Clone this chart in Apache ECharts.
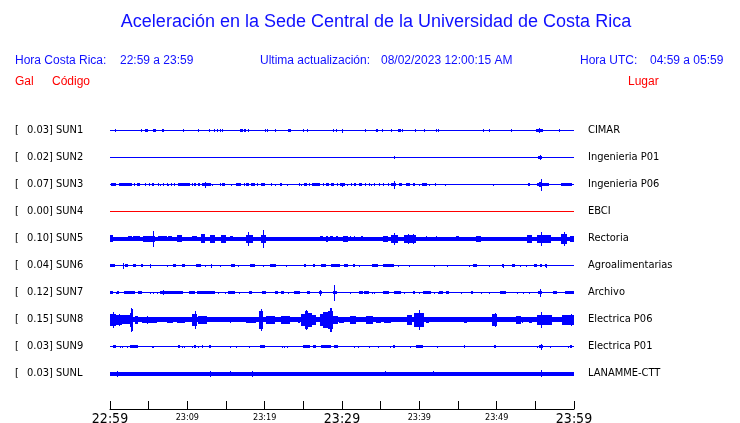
<!DOCTYPE html>
<html><head><meta charset="utf-8">
<script src="https://cdn.jsdelivr.net/npm/echarts@6.0.0/dist/echarts.min.js"></script>
<style>html,body{margin:0;padding:0;background:#fff}#c{width:740px;height:423px}</style>
</head><body><div id="c"></div>
<script>
// ---- data ----
const codes  = ['SUN1','SUN2','SUN3','SUN4','SUN5','SUN6','SUN7','SUN8','SUN9','SUNL'];
const gal    = [0.03, 0.02, 0.07, 0.00, 0.10, 0.04, 0.12, 0.15, 0.03, 0.03];
const places = ['CIMAR','Ingenieria P01','Ingenieria P06','EBCI','Rectoria','Agroalimentarias','Archivo','Electrica P06','Electrica P01','LANAMME-CTT'];
const tickLabels = ['22:59','23:09','23:19','23:29','23:39','23:49','23:59']; // every 10 minutes
// background noise half-amplitude of each trace
const baseAmp = [0.5, 0.5, 0.5, 0.5, 2, 0.5, 0.5, 2.4, 0.5, 2];
// events: [start minute, end minute, half amplitude]
const sun1 = [[0.68,0.68,1.5],[1.85,1.85,0.9],[3.32,3.32,0.9],[4.0,4.0,1.3],[4.55,4.9,1.3],[5.6,6.0,1.5],[6.67,6.67,1.3],[6.88,6.88,1.3],[9.46,9.46,1.5],[11.39,11.39,1.3],[12.81,12.81,1.3],[13.46,13.46,1.3],[13.85,13.85,1.3],[14.19,14.19,1.3],[14.49,14.49,1.3],[16.8,17.2,1.3],[17.3,17.6,1.3],[17.85,17.85,1.3],[18.41,18.41,0.9],[20.04,20.04,1.3],[20.3,20.3,1.3],[21.38,21.38,1.3],[23.0,23.4,1.3],[25.0,25.0,1.3],[25.5,25.5,1.3],[27.9,27.9,0.9],[28.8,28.8,1.3],[29.2,29.2,1.3],[30.0,30.0,2],[30.75,30.75,0.9],[33.0,33.0,1.3],[33.59,33.59,0.9],[34.41,34.41,1.3],[34.54,34.54,1.3],[35.13,35.13,1.3],[36.3,36.3,1.3],[36.81,36.81,0.9],[37.25,37.6,1.3],[37.77,37.77,1.3],[39.44,39.44,1.3],[40.55,40.55,1.3],[42.15,42.15,1.3],[42.36,42.36,1.3],[43.0,43.0,0.9],[48.17,48.17,1.3],[48.48,48.48,0.9],[49.07,49.07,1.3],[51.9,51.9,1.3],[55.1,56.0,1.3],[55.45,55.6,2.2],[58.06,58.06,1.3]];
const sun2 = [[36.7,36.7,1.5],[55.3,55.9,1.3],[55.55,55.7,2.2]];
const sun3 = [[0.1,0.75,1.5],[1.2,2.9,1.3],[3.14,3.14,1.3],[3.44,3.91,1.3],[4.52,4.52,1.3],[5.03,5.03,1.3],[5.46,5.72,1.3],[6.15,6.15,1.3],[6.49,6.49,1],[6.88,6.88,1.3],[7.32,7.32,1.3],[7.52,7.52,1],[7.87,7.87,1.3],[8.22,8.22,1.3],[8.74,10.32,1.3],[10.62,10.62,1.3],[10.88,11.06,1.3],[11.39,11.65,1.3],[11.91,13.03,1.3],[12.26,12.26,3],[13.2,13.2,1],[14.19,14.19,1.3],[14.49,14.84,1.3],[15.61,15.61,1],[16.35,16.9,1.3],[17.29,17.29,1.3],[17.64,17.94,1.3],[18.28,18.71,1.3],[19.06,19.06,1.3],[19.57,20.09,1.3],[20.86,20.86,1.3],[21.29,21.29,1],[21.94,22.23,1.3],[22.93,22.93,1],[24.43,24.43,1.3],[24.74,24.74,1],[25.07,25.5,1.3],[25.68,25.68,1.3],[26.1,27.1,1.3],[27.52,27.52,1.3],[27.96,28.26,1.3],[28.6,29.03,1.3],[29.38,29.38,1.3],[29.68,30.45,1.3],[29.97,29.97,2],[30.62,30.62,1],[31.19,31.19,1.3],[31.61,31.83,1.3],[32.26,32.61,1.3],[33.03,33.03,1.3],[33.46,33.46,1.3],[33.77,33.77,1],[34.1,34.1,1.3],[34.75,34.75,1.3],[35.26,35.48,1.3],[35.91,35.91,1.3],[36.35,37.0,1.5],[36.68,36.68,4],[37.42,37.77,1.3],[38.28,38.8,1.3],[39.23,39.4,1.3],[40.0,40.0,1],[40.35,40.94,1.5],[41.2,41.2,1],[41.97,41.97,1.3],[43.26,43.26,1],[45.16,45.16,0.9],[47.96,47.96,0.9],[48.39,48.39,0.9],[49.55,49.55,1],[50.62,50.62,0.9],[52.26,52.26,0.9],[53.33,53.33,0.9],[54.1,54.32,1.3],[55.26,56.77,1.5],[55.5,55.9,2.5],[55.7,55.7,6],[58.28,59.78,1.3]];
const sun4 = [];
const sun5 = [[0,0.43,3.5],[2.36,2.8,2.5],[3.0,3.87,2.5],[4.3,5.81,3],[5.59,5.59,8],[6.23,7.32,2.5],[7.52,7.96,2.5],[8.61,9.25,3.5],[10.54,11.19,2.5],[11.83,12.26,4.5],[12.9,13.55,4],[14.41,15.06,4],[15.48,15.91,2.5],[17.64,18.49,4],[17.85,17.85,7],[19.57,20.22,4],[19.78,19.78,9],[27.1,27.5,2.5],[27.9,28.2,3],[28.39,28.82,2.5],[29.25,29.46,2.5],[30.1,30.75,3],[31.06,31.06,2.5],[31.61,31.61,2.5],[32.48,32.68,2.5],[34.84,34.84,2],[35.26,35.91,3],[36.35,37.2,4],[36.77,36.77,6],[38.06,39.57,4],[38.5,38.5,5],[39.2,39.2,5],[40.86,40.86,2.5],[42.15,42.15,2.5],[44.73,45.16,2.5],[47.32,47.96,3],[53.97,54.62,4],[55.26,56.99,4],[55.7,55.7,7],[58.28,59.14,5],[58.7,58.7,7],[59.5,60,3]];
const sun6 = [[0,0.65,1.3],[1.64,1.81,1.3],[1.72,1.72,3],[1.94,2.36,1.3],[2.93,3.35,1.3],[3.96,4.3,1.3],[5.16,5.16,2],[7.32,7.32,1],[8.09,8.52,1.3],[9.25,9.68,1.3],[11.1,11.83,1.3],[12.26,12.26,1],[13.03,13.03,2],[14.19,14.19,1],[15.61,16.13,1.3],[16.55,16.55,1],[18.15,18.71,1.3],[19.78,19.78,1],[20.74,21.51,1.3],[22.8,22.8,1],[25.03,25.38,1.3],[26.23,26.45,1.3],[27.32,27.87,1.3],[28.6,29.68,1.3],[30.32,30.75,1.3],[31.48,31.74,1.3],[32.26,32.26,1],[33.9,34.62,1.3],[35.26,36.77,1.3],[37.2,37.2,1],[38.62,38.62,1],[41.94,41.94,1],[43.52,43.52,1],[46.36,46.36,1],[46.88,47.52,1.3],[49.03,49.03,1],[50.75,50.97,1.3],[50.85,50.85,2],[52.04,52.35,1.3],[53.0,53.0,1],[53.77,53.77,1],[54.84,55.26,1.3],[55.57,55.91,1.3],[56.26,56.55,1.3],[56.4,56.4,2]];
const sun7 = [[0,0.43,1.3],[0.77,0.77,1],[0.94,1.2,1.3],[1.81,3.23,1.3],[3.65,4.09,1.3],[5.16,5.16,1],[5.51,5.51,1],[6.03,6.03,1],[6.45,9.46,1.3],[6.8,6.8,2.5],[10.23,10.97,1.3],[11.26,13.55,1.3],[13.97,13.97,1],[14.84,14.84,1],[15.26,16.13,1.3],[16.68,16.68,1],[17.97,18.41,1.3],[19.61,20.22,1.3],[21.29,21.72,1.3],[22.15,22.45,1.3],[23.0,23.0,1],[23.74,24.52,1.3],[25.46,25.9,1.3],[27.0,27.45,1.3],[27.2,27.2,3],[28.81,29.33,1.5],[29.03,29.03,8],[30.97,30.97,1],[32.17,32.68,1.3],[32.9,33.46,1.3],[33.9,33.9,1],[34.19,34.19,1],[35.26,36.13,1.3],[36.77,37.64,1.3],[38.06,38.06,1],[39.13,39.48,1.3],[40.0,40.0,1],[40.43,41.51,1.3],[41.94,41.94,1],[42.36,42.36,1],[42.58,43.0,1.3],[43.44,43.78,1.3],[45.38,45.38,1],[46.67,46.97,1.3],[47.96,47.96,1],[49.03,49.03,1],[50.41,51.26,1.3],[52.68,52.68,1],[53.42,53.42,1],[54.19,54.19,1],[55.39,55.83,1.5],[55.6,55.6,4],[57.29,57.84,1.3],[58.84,60,1.3]];
const sun8 = [[0,0.8,6],[0.8,1.6,5],[1.6,2.58,4.5],[0.43,0.43,8],[1.2,1.2,6],[2.58,3.0,7],[2.7,2.7,12],[2.9,2.9,11],[3.23,3.65,4],[4.09,6.03,3],[4.8,4.8,4],[7.32,8.17,3],[8.61,9.68,3],[10.54,11.19,6],[10.97,10.97,9],[11.39,12.48,4],[12.9,13.55,2.5],[15.48,15.48,3],[17.64,18.93,3],[19.26,19.78,9],[19.57,19.57,11],[20.22,21.29,4],[22.15,23.23,4],[24.3,24.52,3],[24.74,25.2,6],[25.2,25.6,9],[25.38,25.38,10],[25.6,26.1,7],[26.1,26.67,5],[27.1,27.6,6],[27.6,28.2,8],[28.2,28.81,9],[28.39,28.39,12],[28.52,28.52,12],[28.81,29.46,4],[29.59,30.32,3],[30.97,31.83,4],[33.12,33.97,4],[34.41,35.06,3],[35.48,36.35,3],[36.55,36.99,2.5],[37.42,37.84,2.5],[38.36,39.06,5],[39.35,40.64,7],[40.0,40.0,10],[40.86,41.29,3],[45.81,46.1,3],[48.6,48.6,2.5],[49.46,50.1,6],[49.77,49.77,7],[50.75,50.75,2.5],[51.39,51.39,2.5],[52.48,53.12,4],[53.33,53.33,3],[54.19,54.62,3],[55.26,57.2,5],[55.7,55.7,8],[58.49,60,5],[59.57,59.57,6]];
const sun9 = [[0.39,0.74,1.3],[1.25,1.25,1],[1.59,1.59,1],[2.19,2.36,1],[2.62,3.57,1.3],[5.46,5.64,1],[8.74,8.99,1.3],[9.25,9.25,1],[9.51,9.51,1],[10.62,10.62,1],[10.88,11.06,1.3],[11.32,11.32,1],[11.91,12.09,1.3],[12.86,13.03,1.3],[15.52,15.52,1],[16.3,16.3,1],[17.94,18.1,1],[19.39,20.0,1.3],[22.23,22.23,1],[22.49,22.49,1],[22.93,22.93,1],[24.94,25.85,1.3],[26.23,26.67,1.3],[27.23,28.61,1.3],[29.03,29.46,1.3],[31.61,31.61,1],[32.04,32.04,1],[33.55,33.55,1],[34.62,34.62,1],[36.26,36.26,1],[36.55,36.81,1.3],[38.75,38.75,1],[39.57,40.43,1.3],[42.23,42.23,1],[45.84,45.84,1.3],[49.68,49.97,1.3],[55.26,55.26,1],[55.48,56.0,1.3],[55.7,55.7,3],[56.86,56.86,1],[59.26,59.26,1],[59.44,59.78,1.3]];
const sunl = [[0.9,0.9,3],[12.94,12.94,3],[15.52,15.52,2.5],[18.36,18.36,3],[35.61,35.61,2.5],[41.72,41.72,2.5],[55.7,55.7,3.5]];
const traceEvents = [sun1, sun2, sun3, sun4, sun5, sun6, sun7, sun8, sun9, sunl];
const traceColors = ['#0000ff','#0000ff','#0000ff','#ff0000','#0000ff','#0000ff','#0000ff','#0000ff','#0000ff','#0000ff'];

const chart = echarts.init(document.getElementById('c'), null, {renderer: 'canvas'});
const labelFont = '"DejaVu Sans Condensed","DejaVu Sans",sans-serif';
const headFont = '"Liberation Sans",Arial,sans-serif';

function renderTrace(params, api) {
  const t0 = api.value(0), t1 = api.value(1), amp = api.value(2), row = api.value(3);
  const c0 = api.coord([t0, row]);
  const c1 = api.coord([t1, row]);
  const band = Math.abs(api.coord([0, 1])[1] - api.coord([0, 0])[1]);
  const h = amp * band / 27;
  const x0 = Math.round(c0[0]);
  let x1 = Math.round(c1[0]);
  if (x1 - x0 < 1) x1 = x0 + 1;
  const y0 = Math.round(c0[1] - h);
  let y1 = Math.round(c0[1] + h);
  if (y1 - y0 < 1) y1 = y0 + 1;
  return {type: 'rect', shape: {x: x0, y: y0, width: x1 - x0, height: y1 - y0},
          style: {fill: api.visual('color')}};
}

const series = traceEvents.map((ev, i) => ({
  type: 'custom',
  name: codes[i],
  xAxisIndex: 0, yAxisIndex: 0,
  renderItem: renderTrace,
  itemStyle: {color: traceColors[i]},
  encode: {x: [0, 1], y: 3},
  animation: false,
  silent: true,
  data: [[0, 60, baseAmp[i], i]].concat(ev.map(e => [e[0], e[1], e[2], i]))
}));

const option = {
  animation: false,
  backgroundColor: '#fff',
  grid: {left: 110, width: 464, top: 117, height: 270, containLabel: false, outerBoundsMode: 'none'},
  xAxis: {
    type: 'value', min: 0, max: 60, interval: 5, offset: 22,
    axisLine: {show: true, lineStyle: {color: '#000', width: 1}},
    axisTick: {show: true, inside: true, length: 8, lineStyle: {color: '#000'}},
    splitLine: {show: false},
    axisLabel: {
      margin: 2, showMinLabel: true, showMaxLabel: true, hideOverlap: false,
      color: '#000', fontFamily: labelFont,
      formatter: v => {
        if (v % 10 !== 0) return '';
        const t = tickLabels[v / 10];
        return v % 30 === 0 ? '{big|' + t + '}' : '{small|' + t + '}';
      },
      rich: {
        big: {fontSize: 14, fontFamily: labelFont, color: '#000', lineHeight: 16},
        small: {fontSize: 9, fontFamily: labelFont, color: '#000', lineHeight: 14}
      }
    }
  },
  yAxis: [{
    type: 'category', data: codes, inverse: true, position: 'left',
    axisLine: {show: false}, axisTick: {show: false}, splitLine: {show: false},
    axisLabel: {
      align: 'left', margin: 95, color: '#000', fontSize: 11, fontFamily: labelFont,
      formatter: (v, i) => '{a|[}{b|' + gal[i].toFixed(2) + ']} ' + v,
      rich: {a: {width: 12, fontSize: 11, fontFamily: labelFont, color: '#000'},
             b: {fontSize: 11, fontFamily: labelFont, color: '#000'}}
    }
  }, {
    type: 'category', data: places, inverse: true, position: 'right',
    axisLine: {show: false}, axisTick: {show: false}, splitLine: {show: false},
    axisLabel: {align: 'left', margin: 14, color: '#000', fontSize: 11, fontFamily: labelFont}
  }],
  graphic: [
    {type: 'text', x: 376, y: 13, style: {text: 'Aceleración en la Sede Central de la Universidad de Costa Rica', fill: '#1010ff', font: '18px ' + headFont, align: 'center'}},
    {type: 'text', x: 15, y: 55, style: {text: 'Hora Costa Rica:', fill: '#1010ff', font: '12px ' + headFont}},
    {type: 'text', x: 120, y: 55, style: {text: '22:59 a 23:59', fill: '#1010ff', font: '12px ' + headFont}},
    {type: 'text', x: 260, y: 55, style: {text: 'Ultima actualización:', fill: '#1010ff', font: '12px ' + headFont}},
    {type: 'text', x: 381, y: 55, style: {text: '08/02/2023 12:00:15 AM', fill: '#1010ff', font: '12px ' + headFont}},
    {type: 'text', x: 580, y: 55, style: {text: 'Hora UTC:', fill: '#1010ff', font: '12px ' + headFont}},
    {type: 'text', x: 650, y: 55, style: {text: '04:59 a 05:59', fill: '#1010ff', font: '12px ' + headFont}},
    {type: 'text', x: 15, y: 76, style: {text: 'Gal', fill: '#ff0000', font: '12px ' + headFont}},
    {type: 'text', x: 52, y: 76, style: {text: 'Código', fill: '#ff0000', font: '12px ' + headFont}},
    {type: 'text', x: 628, y: 76, style: {text: 'Lugar', fill: '#ff0000', font: '12px ' + headFont}}
  ],
  series: series
};
chart.setOption(option);
</script>
</body></html>
